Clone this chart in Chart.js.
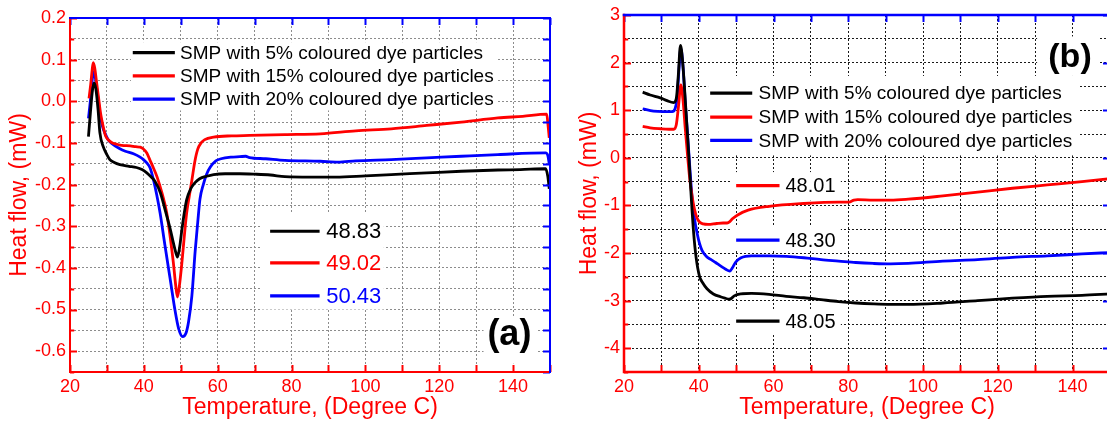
<!DOCTYPE html>
<html><head><meta charset="utf-8">
<script src="https://cdn.jsdelivr.net/npm/chart.js@4.4.0/dist/chart.umd.min.js"></script>
<style>
html,body{margin:0;padding:0;background:#fff;overflow:hidden;width:1107px;height:423px;}
#wrap{position:relative;width:1107px;height:423px;overflow:hidden;background:#fff;}
canvas{position:absolute;top:0;}
#ca{left:0;} #cb{left:560px;}
</style></head><body>
<div id="wrap"><canvas id="ca" width="560" height="423"></canvas><canvas id="cb" width="560" height="423"></canvas></div>
<script>
// ---------- DATA ----------
const LEGEND_LABELS = ['SMP with 5% coloured dye particles', 'SMP with 15% coloured dye particles', 'SMP with 20% coloured dye particles'];
const PEAKS_A = ['48.83', '49.02', '50.43'];
const PEAKS_B = ['48.01', '48.30', '48.05'];
const X_TITLE = 'Temperature, (Degree C)';
const Y_TITLE = 'Heat flow, (mW)';

// Panel (a)
const A_T5 = [25.0, 25.5, 26.0, 26.5, 27.0, 27.6, 28.1, 29.0, 30.0, 30.8, 32.0, 33.5, 36.0, 38.0, 39.5, 40.8, 42.0, 43.0, 44.5, 45.8, 47.1, 48.0, 48.5, 49.1, 49.7, 50.3, 51.0, 51.6, 52.7, 53.8, 55.1, 57.0, 58.9, 62.0, 66.0, 70.0, 74.3, 78.2, 85.0, 92.0, 100.0, 107.0, 116.6, 126.0, 135.9, 142.0, 148.8, 149.4, 149.8];
const A_H5 = [-0.085, -0.03, 0.02, 0.044, 0.03, -0.02, -0.076, -0.109, -0.128, -0.14, -0.147, -0.152, -0.156, -0.159, -0.164, -0.172, -0.182, -0.192, -0.22, -0.262, -0.305, -0.34, -0.358, -0.374, -0.35, -0.308, -0.265, -0.236, -0.21, -0.196, -0.186, -0.18, -0.176, -0.174, -0.174, -0.175, -0.177, -0.181, -0.182, -0.182, -0.179, -0.176, -0.172, -0.168, -0.165, -0.164, -0.162, -0.18, -0.21];

const A_T15 = [25.15, 25.6, 26.0, 26.3, 26.7, 27.2, 27.7, 28.3, 29.0, 29.6, 30.4, 31.5, 32.6, 34.0, 36.3, 37.8, 39.0, 39.8, 40.8, 41.6, 42.6, 43.6, 44.9, 46.2, 47.2, 48.0, 48.6, 49.1, 49.6, 50.3, 51.0, 51.6, 52.3, 53.0, 53.8, 54.6, 55.5, 56.5, 58.9, 63.8, 68.6, 78.2, 87.8, 97.4, 107.0, 116.6, 126.0, 135.9, 142.6, 149.1, 149.5, 149.8];
const A_H15 = [0.007, 0.04, 0.075, 0.093, 0.08, 0.045, 0.011, -0.03, -0.061, -0.082, -0.093, -0.1, -0.103, -0.106, -0.107, -0.109, -0.11, -0.114, -0.124, -0.14, -0.16, -0.182, -0.22, -0.268, -0.33, -0.388, -0.44, -0.47, -0.445, -0.388, -0.32, -0.268, -0.228, -0.19, -0.145, -0.115, -0.1, -0.092, -0.086, -0.083, -0.082, -0.08, -0.078, -0.071, -0.066, -0.058, -0.05, -0.04, -0.036, -0.031, -0.06, -0.088];

const A_T20 = [25.0, 25.5, 26.0, 26.4, 26.8, 27.4, 28.1, 28.8, 29.5, 30.3, 31.3, 33.5, 35.0, 37.2, 39.0, 39.9, 40.8, 41.7, 42.6, 43.5, 44.4, 45.7, 47.1, 48.5, 49.4, 50.5, 51.4, 52.1, 53.0, 53.9, 54.6, 55.2, 56.1, 57.0, 58.0, 59.5, 60.9, 63.8, 66.0, 67.6, 68.6, 73.0, 78.2, 87.8, 92.6, 97.4, 107.0, 116.6, 126.0, 135.9, 148.8, 149.4, 149.8];
const A_H20 = [-0.041, 0.0, 0.05, 0.071, 0.06, 0.02, -0.029, -0.06, -0.077, -0.092, -0.101, -0.114, -0.12, -0.126, -0.134, -0.14, -0.148, -0.16, -0.188, -0.225, -0.268, -0.345, -0.425, -0.505, -0.545, -0.565, -0.557, -0.53, -0.468, -0.36, -0.29, -0.235, -0.2, -0.175, -0.158, -0.143, -0.138, -0.134, -0.133, -0.132, -0.135, -0.138, -0.142, -0.144, -0.146, -0.143, -0.14, -0.136, -0.132, -0.128, -0.124, -0.13, -0.15];

// Panel (b)
const B_T5 = [25.0, 27.0, 29.7, 31.5, 33.3, 34.0, 34.5, 35.1, 35.6, 36.2, 36.8, 37.4, 38.0, 38.6, 39.3, 40.2, 41.0, 42.2, 43.9, 45.8, 47.0, 48.1, 48.8, 49.5, 51.3, 54.1, 58.8, 63.4, 68.1, 72.7, 77.4, 82.0, 86.7, 91.3, 96.0, 105.3, 114.6, 123.9, 133.2, 142.5, 150.0];
const B_H5 = [1.38, 1.32, 1.26, 1.2, 1.16, 1.25, 1.7, 2.36, 2.1, 1.45, 0.7, -0.04, -0.85, -1.55, -2.1, -2.49, -2.62, -2.75, -2.86, -2.92, -2.95, -2.97, -2.95, -2.9, -2.86, -2.85, -2.87, -2.91, -2.94, -2.98, -3.02, -3.05, -3.07, -3.08, -3.08, -3.05, -3.0, -2.95, -2.91, -2.89, -2.86];

const B_T15 = [25.0, 27.0, 29.7, 32.0, 33.3, 34.0, 34.6, 35.2, 35.8, 36.4, 37.0, 37.6, 38.3, 38.9, 39.5, 40.2, 41.2, 42.5, 44.8, 46.5, 47.6, 48.3, 49.0, 50.4, 53.2, 58.8, 68.1, 77.4, 80.2, 81.5, 82.5, 86.7, 91.3, 96.0, 105.3, 114.6, 123.9, 133.2, 142.5, 150.0];
const B_H15 = [0.66, 0.63, 0.61, 0.6, 0.6, 0.7, 1.1, 1.53, 1.2, 0.6, 0.05, -0.45, -0.85, -1.1, -1.26, -1.35, -1.39, -1.4, -1.38, -1.37, -1.37, -1.34, -1.28, -1.2, -1.1, -1.02, -0.96, -0.93, -0.93, -0.89, -0.88, -0.89, -0.89, -0.87, -0.8, -0.72, -0.64, -0.57, -0.5, -0.44];

const B_T20 = [25.0, 27.9, 30.5, 32.9, 33.6, 34.2, 34.7, 35.2, 35.8, 36.4, 37.0, 37.6, 38.2, 38.9, 39.6, 40.2, 40.9, 42.0, 43.1, 44.5, 45.8, 47.2, 48.3, 49.0, 49.8, 51.3, 54.1, 58.8, 63.4, 68.1, 72.7, 77.4, 82.0, 86.7, 91.3, 96.0, 105.3, 114.6, 123.9, 133.2, 142.5, 150.0];
const B_H20 = [1.03, 0.98, 0.97, 0.97, 1.02, 1.25, 1.85, 2.3, 1.9, 1.15, 0.5, -0.2, -0.82, -1.3, -1.6, -1.8, -1.95, -2.07, -2.13, -2.2, -2.27, -2.34, -2.38, -2.31, -2.2, -2.1, -2.06, -2.06, -2.07, -2.1, -2.14, -2.17, -2.2, -2.22, -2.23, -2.22, -2.17, -2.14, -2.09, -2.06, -2.02, -1.99];

// ---------- RENDER ----------
const FONT = '"Liberation Sans", Arial, Helvetica, sans-serif';
const RED = '#ff0000', BLUE = '#0000ff', BLACK = '#000000';
const pts = (xs, ys) => xs.map((x, i) => ({x, y: ys[i]}));

const decor = {
  id: 'decor',
  beforeDatasetsDraw(chart, args, o) {
    const {ctx, scales: {x, y}} = chart;
    ctx.save();
    ctx.fillStyle = '#ffffff';
    for (const b of o.boxes) {
      const x0 = x.getPixelForValue(b[0]), x1 = x.getPixelForValue(b[1]);
      const y0 = y.getPixelForValue(b[2]), y1 = y.getPixelForValue(b[3]);
      ctx.fillRect(x0, y0, x1 - x0, y1 - y0);
    }
    ctx.restore();
  },
  afterDatasetsDraw(chart, args, o) {
    const {ctx, chartArea: ca, scales: {x, y}} = chart;
    ctx.save();
    ctx.textBaseline = 'middle';
    ctx.textAlign = 'left';
    for (const r of o.rows) {
      const py = y.getPixelForValue(r.y);
      ctx.strokeStyle = r.color; ctx.lineWidth = 3.2; ctx.lineCap = 'butt';
      ctx.beginPath(); ctx.moveTo(x.getPixelForValue(r.x0), py); ctx.lineTo(x.getPixelForValue(r.x1), py); ctx.stroke();
      ctx.fillStyle = r.textColor; ctx.font = r.size + 'px ' + FONT;
      ctx.fillText(r.text, x.getPixelForValue(r.tx), py + 1);
    }
    ctx.fillStyle = '#000'; ctx.textAlign = 'center';
    ctx.font = 'bold ' + o.tag.size + 'px ' + FONT;
    ctx.fillText(o.tag.text, x.getPixelForValue(o.tag.x), y.getPixelForValue(o.tag.y));
    const tl = o.tickLen;
    ctx.lineWidth = o.tickW;
    for (const t of y.ticks) {
      const py = Math.round(y.getPixelForValue(t.value)) + 0.5;
      const major = t.label !== '';
      ctx.strokeStyle = RED;
      ctx.beginPath(); ctx.moveTo(ca.left, py); ctx.lineTo(ca.left + (major ? tl : tl * 0.6), py); ctx.stroke();
      if (major || o.rightMinor) {
        ctx.strokeStyle = BLUE;
        ctx.beginPath(); ctx.moveTo(ca.right, py); ctx.lineTo(ca.right - tl, py); ctx.stroke();
      }
    }
    for (const t of x.ticks) {
      const px = Math.round(x.getPixelForValue(t.value)) + 0.5;
      ctx.strokeStyle = RED;
      ctx.beginPath(); ctx.moveTo(px, ca.bottom); ctx.lineTo(px, ca.bottom - tl); ctx.stroke();
      ctx.strokeStyle = BLUE;
      ctx.beginPath(); ctx.moveTo(px, ca.top); ctx.lineTo(px, ca.top + tl); ctx.stroke();
    }
    ctx.lineWidth = o.frameW; ctx.lineCap = 'square';
    ctx.strokeStyle = RED;
    ctx.beginPath(); ctx.moveTo(ca.left, ca.top); ctx.lineTo(ca.left, ca.bottom); ctx.lineTo(ca.right, ca.bottom); ctx.stroke();
    ctx.strokeStyle = BLUE;
    ctx.beginPath(); ctx.moveTo(ca.left, ca.top); ctx.lineTo(ca.right, ca.top); ctx.lineTo(ca.right, ca.bottom); ctx.stroke();
    ctx.restore();
  }
};

function makeChart(id, cfg) {
  const ds = (data, color) => ({data, borderColor: color, borderWidth: 2.8, pointRadius: 0, fill: false,
    cubicInterpolationMode: 'monotone'});
  return new Chart(document.getElementById(id), {
    type: 'line',
    data: {datasets: [ds(cfg.s5, BLACK), ds(cfg.s15, RED), ds(cfg.s20, BLUE)]},
    plugins: [decor],
    options: {
      responsive: false, animation: false, devicePixelRatio: 1,
      layout: {padding: {top: cfg.padTop, right: cfg.padRight, left: 0, bottom: 0}},
      plugins: {legend: {display: false}, tooltip: {enabled: false}, decor: cfg.decor},
      scales: {
        x: {
          type: 'linear', min: 20, max: 150,
          afterFit: s => { s.height = 51; },
          grid: {color: cfg.gridColor, lineWidth: 1, drawTicks: false},
          border: {display: false, dash: [2, 2]},
          ticks: {stepSize: 10, autoSkip: false, maxRotation: 0, padding: 4, color: RED,
            font: {family: FONT, size: 18},
            callback: v => (Math.round(v / 10) % 2 === 0 ? String(v) : '')},
          title: {display: true, text: X_TITLE, color: RED, font: {family: FONT, size: 23}, padding: {top: 0, bottom: 2}}
        },
        y: {
          type: 'linear', min: cfg.yMin, max: cfg.yMax,
          afterFit: s => { s.width = cfg.yWidth; },
          grid: {color: cfg.gridColor, lineWidth: 1, drawTicks: false},
          border: {display: false, dash: [2, 2]},
          ticks: {stepSize: cfg.yStep, autoSkip: false, padding: 4, color: RED,
            font: {family: FONT, size: 18}, callback: cfg.yLabel},
          title: {display: true, text: Y_TITLE, color: RED, font: {family: FONT, size: 23}, padding: {top: cfg.yTitlePad, bottom: 0}}
        }
      }
    }
  });
}

makeChart('ca', {
  s5: pts(A_T5, A_H5), s15: pts(A_T15, A_H15), s20: pts(A_T20, A_H20),
  yMin: -0.65, yMax: 0.2, yStep: 0.05, yWidth: 70, yTitlePad: 6, padTop: 18, padRight: 10,
  gridColor: '#8c8c8c',
  yLabel: v => (Math.abs(Math.round(v * 20)) % 2 === 0 ? (Math.round(v * 10) / 10).toFixed(1) : ''),
  decor: {
    tickLen: 7, tickW: 2, frameW: 2, rightMinor: true,
    boxes: [[36.5, 135.5, 0.142, -0.022], [72, 105, -0.27, -0.5], [132, 146.5, -0.52, -0.63]],
    rows: [
      {x0: 37, x1: 48.4, tx: 49.8, y: 0.117, color: BLACK, text: LEGEND_LABELS[0], textColor: BLACK, size: 19},
      {x0: 37, x1: 48.4, tx: 49.8, y: 0.061, color: RED, text: LEGEND_LABELS[1], textColor: BLACK, size: 19},
      {x0: 37, x1: 48.4, tx: 49.8, y: 0.005, color: BLUE, text: LEGEND_LABELS[2], textColor: BLACK, size: 19},
      {x0: 74.2, x1: 87.6, tx: 89.4, y: -0.312, color: BLACK, text: PEAKS_A[0], textColor: BLACK, size: 22},
      {x0: 74.2, x1: 87.6, tx: 89.4, y: -0.388, color: RED, text: PEAKS_A[1], textColor: RED, size: 22},
      {x0: 74.2, x1: 87.6, tx: 89.4, y: -0.467, color: BLUE, text: PEAKS_A[2], textColor: BLUE, size: 22}
    ],
    tag: {text: '(a)', x: 139, y: -0.562, size: 36}
  }
});

makeChart('cb', {
  s5: pts(B_T5, B_H5), s15: pts(B_T15, B_H15), s20: pts(B_T20, B_H20),
  yMin: -4.5, yMax: 3, yStep: 0.5, yWidth: 64, yTitlePad: 16, padTop: 15, padRight: 10,
  gridColor: '#1a1a1a',
  yLabel: v => (Math.abs(Math.round(v * 2)) % 2 === 0 ? String(Math.round(v)) : ''),
  decor: {
    tickLen: 7, tickW: 2, frameW: 2.5, rightMinor: false,
    boxes: [[42.5, 141.5, 1.72, 0.05], [48.8, 78, -0.3, -0.9], [48.8, 78, -1.45, -1.95], [48.8, 78, -3.2, -3.7], [130.5, 147, 2.55, 1.72]],
    rows: [
      {x0: 43.05, x1: 54.3, tx: 56, y: 1.36, color: BLACK, text: LEGEND_LABELS[0], textColor: BLACK, size: 19},
      {x0: 43.05, x1: 54.3, tx: 56, y: 0.855, color: RED, text: LEGEND_LABELS[1], textColor: BLACK, size: 19},
      {x0: 43.05, x1: 54.3, tx: 56, y: 0.365, color: BLUE, text: LEGEND_LABELS[2], textColor: BLACK, size: 19},
      {x0: 50, x1: 61.6, tx: 63.2, y: -0.585, color: RED, text: PEAKS_B[0], textColor: BLACK, size: 20},
      {x0: 50, x1: 61.6, tx: 63.2, y: -1.73, color: BLUE, text: PEAKS_B[1], textColor: BLACK, size: 20},
      {x0: 50, x1: 61.6, tx: 63.2, y: -3.43, color: BLACK, text: PEAKS_B[2], textColor: BLACK, size: 20}
    ],
    tag: {text: '(b)', x: 139.3, y: 2.1, size: 34}
  }
});
</script>
</body></html>
